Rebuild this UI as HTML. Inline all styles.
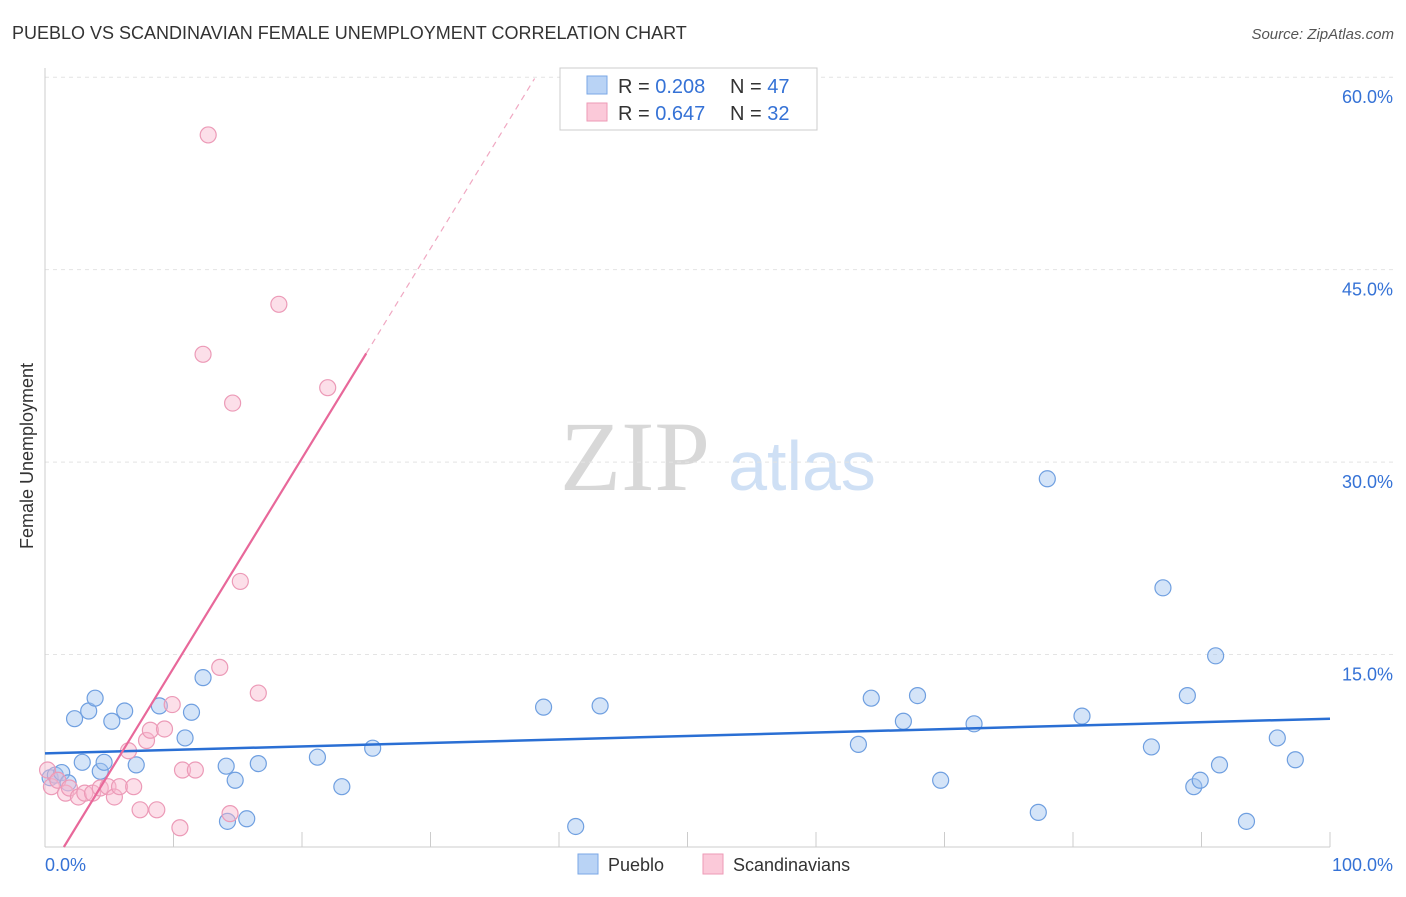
<!DOCTYPE html>
<html><head><meta charset="utf-8"><style>
body{margin:0;background:#fff;font-family:"Liberation Sans",sans-serif;}
svg text{font-family:"Liberation Sans",sans-serif;}
</style></head><body>
<svg id="c" width="1406" height="892">
<text x="12" y="39" font-size="18" fill="#333">PUEBLO VS SCANDINAVIAN FEMALE UNEMPLOYMENT CORRELATION CHART</text>
<text x="1394" y="39" font-size="15" fill="#555" font-style="italic" text-anchor="end">Source: ZipAtlas.com</text>
<text transform="translate(33,456) rotate(-90)" font-size="18" fill="#333" text-anchor="middle">Female Unemployment</text>
<g>
<text x="635" y="490" font-size="100" fill="#d8d8d8" style="font-family:'Liberation Serif',serif" text-anchor="middle">ZIP</text>
<text x="802" y="490" font-size="70" fill="#cfe0f5" text-anchor="middle">atlas</text></g>
<g id="grid"></g><g id="marks"></g>
<g>
<rect x="560" y="68" width="257" height="62" fill="#fff" stroke="#ccc"/>
<rect x="587" y="76" width="20" height="18" fill="#b9d3f5" stroke="#7aa7e6"/>
<rect x="587" y="103" width="20" height="18" fill="#fbc9d9" stroke="#ee9ab6"/>
<text x="618" y="93" font-size="20" fill="#333">R = <tspan fill="#3572d6">0.208</tspan></text>
<text x="730" y="93" font-size="20" fill="#333">N = <tspan fill="#3572d6">47</tspan></text>
<text x="618" y="120" font-size="20" fill="#333">R = <tspan fill="#3572d6">0.647</tspan></text>
<text x="730" y="120" font-size="20" fill="#333">N = <tspan fill="#3572d6">32</tspan></text></g>
<g>
<rect x="578" y="854" width="20" height="20" fill="#b9d3f5" stroke="#7aa7e6"/>
<text x="608" y="871" font-size="18" fill="#333">Pueblo</text>
<rect x="703" y="854" width="20" height="20" fill="#fbc9d9" stroke="#ee9ab6"/>
<text x="733" y="871" font-size="18" fill="#333">Scandinavians</text></g>
</svg>
<script>
const pX=[0.4,0.8,1.3,1.8,2.3,2.9,3.4,3.9,4.3,4.6,5.2,6.2,7.1,8.9,10.9,11.4,12.3,14.1,14.2,14.8,15.7,16.6,21.2,23.1,25.5,38.8,41.3,43.2,63.3,64.3,66.8,67.9,69.7,72.3,77.3,78.0,80.7,86.1,87.0,88.9,89.4,89.9,91.1,91.4,93.5,95.9,97.3];
const pY=[5.4,5.6,5.8,5.0,10.0,6.6,10.6,11.6,5.9,6.6,9.8,10.6,6.4,11.0,8.5,10.5,13.2,6.3,2.0,5.2,2.2,6.5,7.0,4.7,7.7,10.9,1.6,11.0,8.0,11.6,9.8,11.8,5.2,9.6,2.7,28.7,10.2,7.8,20.2,11.8,4.7,5.2,14.9,6.4,2.0,8.5,6.8];
const sX=[0.2,0.5,1.0,1.6,1.9,2.6,3.1,3.7,4.3,4.9,5.4,5.8,6.5,6.9,7.4,7.9,8.2,8.7,9.3,9.9,10.5,10.7,11.7,12.3,12.7,13.6,14.4,14.6,15.2,16.6,18.2,22.0];
const sY=[6.0,4.7,5.2,4.2,4.6,3.9,4.2,4.2,4.6,4.7,3.9,4.7,7.5,4.7,2.9,8.3,9.1,2.9,9.2,11.1,1.5,6.0,6.0,38.4,55.5,14.0,2.6,34.6,20.7,12.0,42.3,35.8];
const xTicks=[0,100];const yTicks=[15,30,45,60];
const blueFit=[7.3,10.0];const pinkFit=[-2.4,1.635];
const X=v=>45+v*12.85, Y=v=>847-v*12.83;
const ns='http://www.w3.org/2000/svg';
function el(p,t,a){const e=document.createElementNS(ns,t);for(const k in a)e.setAttribute(k,a[k]);p.appendChild(e);return e;}
const g=document.getElementById('grid'),m=document.getElementById('marks');
yTicks.forEach(t=>{const l=el(g,'line',{x1:45,x2:1394,y1:Y(t),y2:Y(t),stroke:'#e4e4e4','stroke-dasharray':'4,4'});


const tx=el(g,'text',{x:1393,y:Y(t)+26,'font-size':18,fill:'#3572d6','text-anchor':'end'});tx.textContent=t.toFixed(1)+'%';

});
el(g,'line',{x1:45,x2:45,y1:68,y2:847,stroke:'#ccc'});
el(g,'line',{x1:45,x2:1330,y1:847,y2:847,stroke:'#ccc'});
for(let i=1;i<=10;i++){el(g,'line',{x1:X(i*10),x2:X(i*10),y1:832,y2:847,stroke:'#ccc'});}
xTicks.forEach((t,i)=>{const tx=el(g,'text',{x:i?1393:45,y:871,'font-size':18,fill:'#3572d6','text-anchor':i?'end':'start'});tx.textContent=t.toFixed(1)+'%';

});
pX.forEach((v,i)=>{const c=el(m,'circle',{cx:X(v),cy:Y(pY[i]),r:8,fill:'rgba(160,196,240,0.45)',stroke:'#6f9fe0','stroke-width':1.2});

});
sX.forEach((v,i)=>{const c=el(m,'circle',{cx:X(v),cy:Y(sY[i]),r:8,fill:'rgba(248,184,206,0.45)',stroke:'#ec9ab7','stroke-width':1.2});

});
const bl=el(m,'line',{x1:X(0),y1:Y(blueFit[0]),x2:X(100),y2:Y(blueFit[1]),stroke:'#2a6fd4','stroke-width':2.5});


const pf=x=>pinkFit[0]+pinkFit[1]*x;const x0=-pinkFit[0]/pinkFit[1];
const pl=el(m,'line',{x1:X(x0),y1:Y(0),x2:X(25),y2:Y(pf(25)),stroke:'#e8689a','stroke-width':2.2});


const pd=el(m,'line',{x1:X(25),y1:Y(pf(25)),x2:X(38.1),y2:Y(pf(38.1)),stroke:'#f0a8c2','stroke-width':1.2,'stroke-dasharray':'6,5'});


</script>
</body></html>
